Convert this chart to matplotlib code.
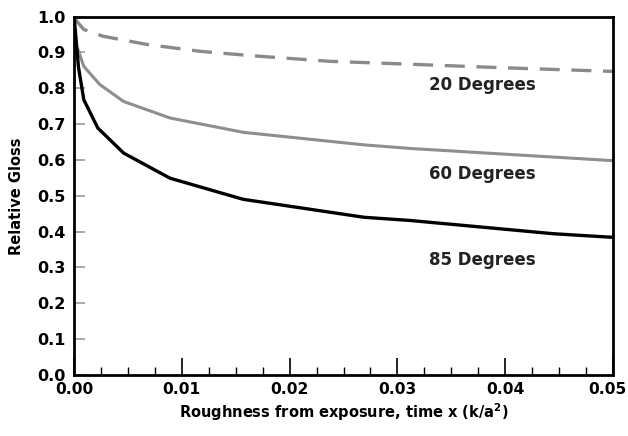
import matplotlib
matplotlib.use("Agg")
import matplotlib.pyplot as plt
import matplotlib.transforms as mtransforms
from matplotlib.ticker import MultipleLocator

# values
x20 = [0.0, 0.0003, 0.0009, 0.0027, 0.0068, 0.0117, 0.0164, 0.0238, 0.0303, 0.04, 0.05]
y20 = [1.0, 0.985, 0.964, 0.945, 0.922, 0.903, 0.891, 0.875, 0.868, 0.857, 0.847]

x60 = [0.0, 0.0004, 0.0009, 0.0024, 0.0046, 0.0089, 0.0157, 0.0269, 0.0312, 0.04, 0.05]
y60 = [0.93, 0.905, 0.861, 0.81, 0.763, 0.717, 0.677, 0.642, 0.632, 0.616, 0.598]

x85 = [0.0, 0.0004, 0.0009, 0.0022, 0.0046, 0.0089, 0.0157, 0.0269, 0.0312, 0.0445, 0.05]
y85 = [1.0, 0.86, 0.768, 0.689, 0.619, 0.549, 0.49, 0.44, 0.431, 0.394, 0.384]

labels = ["20 Degrees", "60 Degrees", "85 Degrees"]
label_y = [0.81, 0.56, 0.32]

fig = plt.figure(figsize=(6.28, 4.36), dpi=100)
ax = fig.add_axes([0.118, 0.14, 0.858, 0.822])

ax.plot(x20, y20, color="#8a8a8a", lw=2.4, ls=(0, (6, 3.5)))
ax.plot(x60, y60, color="#8e8e8e", lw=2.2)
ax.plot(x85, y85, color="black", lw=2.4)

for t, yy in zip(labels, label_y):
    ax.text(0.0379, yy, t, ha="center", va="center", fontsize=12,
            fontweight="bold", color="#222222")

ax.set_xlim(0, 0.05)
ax.set_ylim(0, 1.0)
ax.xaxis.set_major_locator(MultipleLocator(0.01))
ax.xaxis.set_minor_locator(MultipleLocator(0.0025))
ax.yaxis.set_major_locator(MultipleLocator(0.1))
ax.xaxis.set_major_formatter(plt.FormatStrFormatter("%.2f"))
ax.yaxis.set_major_formatter(plt.FormatStrFormatter("%.1f"))

ax.tick_params(axis="x", which="major", direction="in", length=12, width=1.2,
               labelsize=11.2, pad=5)
ax.tick_params(axis="x", which="minor", direction="in", length=6, width=1.0)
ax.tick_params(axis="y", which="major", direction="in", length=8, width=1.2,
               color="#999999", labelsize=11.5, pad=6)
for lbl in ax.get_xticklabels() + ax.get_yticklabels():
    lbl.set_fontweight("bold")

for s in ax.spines.values():
    s.set_linewidth(2)

ax.set_ylabel("Relative Gloss", fontsize=10.5, fontweight="bold", labelpad=10)
ax.set_xlabel("Roughness from exposure, time x (k/a$^\\mathbf{2}$)", fontsize=10.5,
              fontweight="bold", labelpad=3)

# last x label sits against the right edge, nudge it in a bit
fig.canvas.draw()
last = ax.xaxis.get_major_ticks()[-1].label1
for tk in ax.xaxis.get_major_ticks():
    if abs(tk.get_loc() - 0.05) < 1e-9:
        last = tk.label1
last.set_transform(last.get_transform() +
                   mtransforms.ScaledTranslation(-4 / 72, 0, fig.dpi_scale_trans))

fig.savefig("out.png", dpi=100)
